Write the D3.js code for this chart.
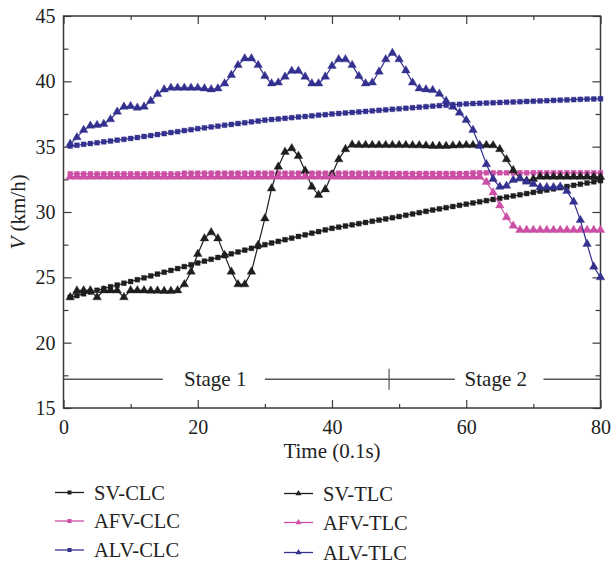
<!DOCTYPE html>
<html><head><meta charset="utf-8">
<script src="https://cdn.jsdelivr.net/npm/d3@7"></script>
<style>body{margin:0;background:#fff}svg{display:block}</style>
</head><body>
<svg id="c" width="611" height="567"></svg>
<script>
const times = d3.range(1, 81);
const svCLC = [23.47,23.60,23.74,23.87,24.01,24.14,24.28,24.41,24.55,24.68,24.82,24.96,25.11,25.25,25.39,25.53,25.67,25.82,25.96,26.10,26.24,26.38,26.52,26.66,26.80,26.94,27.08,27.22,27.36,27.50,27.63,27.75,27.88,28.00,28.13,28.25,28.38,28.50,28.63,28.75,28.84,28.93,29.02,29.11,29.20,29.29,29.38,29.47,29.56,29.65,29.75,29.85,29.95,30.05,30.15,30.24,30.33,30.42,30.51,30.60,30.69,30.78,30.87,30.96,31.05,31.14,31.23,31.32,31.41,31.50,31.59,31.68,31.77,31.86,31.95,32.04,32.13,32.22,32.31,32.40];
const afvCLC = [32.92,32.92,32.92,32.92,32.92,32.92,32.92,32.92,32.92,32.92,32.92,32.92,32.92,32.92,32.92,32.92,32.92,32.97,32.97,32.97,32.97,32.97,32.97,32.97,32.97,32.97,32.97,32.97,32.97,32.97,32.97,32.97,32.97,32.97,32.97,32.97,32.97,32.97,32.97,32.97,32.97,32.97,32.97,32.97,32.97,32.97,32.97,32.95,32.95,32.95,32.95,32.95,32.95,32.95,32.95,32.95,32.95,32.95,32.95,32.95,33.0,33.0,33.0,33.0,33.0,33.0,33.0,33.0,33.0,33.0,33.0,33.0,33.0,33.0,33.0,33.0,33.0,33.0,33.0,33.0];
const alvCLC = [35.05,35.11,35.18,35.24,35.30,35.37,35.43,35.50,35.56,35.63,35.70,35.78,35.85,35.93,36.00,36.08,36.15,36.23,36.30,36.38,36.44,36.51,36.57,36.64,36.70,36.77,36.83,36.90,36.96,37.03,37.08,37.12,37.17,37.22,37.27,37.31,37.36,37.41,37.45,37.50,37.54,37.58,37.62,37.66,37.70,37.74,37.78,37.82,37.86,37.90,37.94,37.98,38.02,38.06,38.10,38.14,38.17,38.21,38.24,38.28,38.30,38.32,38.34,38.36,38.38,38.40,38.42,38.44,38.46,38.48,38.50,38.52,38.54,38.56,38.58,38.60,38.62,38.64,38.65,38.67];
const svTLC = [23.47,23.98,24.0,24.0,23.47,24.0,24.0,24.0,23.47,24.0,24.0,24.0,23.97,23.97,23.95,23.95,24.0,24.46,25.43,26.78,27.98,28.44,27.98,26.7,25.43,24.46,24.46,25.43,27.47,29.51,31.8,33.46,34.6,34.87,34.28,33.16,31.93,31.3,31.73,32.88,34.03,34.8,35.15,35.12,35.12,35.12,35.12,35.12,35.12,35.12,35.12,35.1,35.1,35.08,35.05,35.05,35.05,35.08,35.1,35.12,35.12,35.12,35.12,35.1,34.8,34.03,33.2,32.57,32.4,32.52,32.7,32.7,32.7,32.7,32.7,32.7,32.7,32.7,32.7,32.68];
const afvTLC = [32.7,32.7,32.7,32.7,32.7,32.7,32.7,32.7,32.7,32.7,32.7,32.7,32.7,32.7,32.7,32.7,32.7,32.7,32.7,32.7,32.7,32.7,32.7,32.7,32.7,32.7,32.7,32.7,32.7,32.7,32.7,32.7,32.7,32.7,32.7,32.7,32.7,32.7,32.7,32.7,32.7,32.7,32.7,32.7,32.7,32.7,32.7,32.7,32.7,32.7,32.7,32.7,32.7,32.7,32.7,32.7,32.7,32.7,32.7,32.7,32.7,32.7,32.3,31.5,30.5,29.6,28.95,28.62,28.62,28.62,28.62,28.62,28.62,28.62,28.62,28.62,28.62,28.62,28.62,28.62];
const alvTLC = [35.2,35.71,36.27,36.6,36.65,36.73,37.09,37.67,38.05,38.1,37.98,38.05,38.5,39.02,39.38,39.5,39.5,39.5,39.5,39.5,39.45,39.38,39.45,39.83,40.48,41.24,41.75,41.75,41.24,40.4,39.83,39.9,40.35,40.8,40.8,40.35,39.83,39.83,40.35,41.17,41.68,41.68,41.24,40.4,39.83,39.9,40.73,41.68,42.17,41.68,40.83,39.9,39.45,39.38,39.33,39.04,38.5,38.05,37.6,37.03,36.27,35.05,33.65,32.52,31.93,32.0,32.45,32.57,32.32,32.14,31.89,31.89,31.89,31.93,31.6,30.78,29.38,27.55,25.81,25.0];

const seriesNames = ["SV-CLC","AFV-CLC","ALV-CLC","SV-TLC","AFV-TLC","ALV-TLC"];
const seriesData = [svCLC, afvCLC, alvCLC, svTLC, afvTLC, alvTLC];
const seriesColors = ["#1e1e1e","#cc4fa5","#33308f","#1e1e1e","#cc4fa5","#33308f"];
const seriesShapes = ["square","square","square","triangle","triangle","triangle"];

const xMajor = [0,20,40,60,80];
const xMinor = [10,30,50,70];
const yMajor = [15,20,25,30,35,40,45];
const yMinor = [17.5,22.5,27.5,32.5,37.5,42.5];
const stageLabels = ["Stage 1","Stage 2"];

const svg = d3.select("#c");
const L = 63.5, R = 600.5, T = 16, B = 408;
const x = d3.scaleLinear().domain([0,80]).range([L,R]);
const y = d3.scaleLinear().domain([15,45]).range([B,T]);
const FONT = "'Liberation Serif', 'Times New Roman', serif";
const AX = "#3a3a3a";

function styleAxis(g){ g.select(".domain").remove(); g.selectAll("line").attr("stroke",AX).attr("stroke-width",1.2); g.selectAll("text").attr("font-family",FONT).attr("font-size",20).attr("fill","#222"); }
svg.append("g").attr("transform",`translate(0,${B})`).call(d3.axisBottom(x).tickValues(xMajor).tickSizeInner(-8).tickSizeOuter(0).tickPadding(12).tickFormat(d3.format("d"))).call(styleAxis);
svg.append("g").attr("transform",`translate(0,${B})`).call(d3.axisBottom(x).tickValues(xMinor).tickSizeInner(-4).tickSizeOuter(0).tickFormat("")).call(styleAxis);
svg.append("g").attr("transform",`translate(0,${T})`).call(d3.axisTop(x).tickValues(xMajor).tickSizeInner(-8).tickSizeOuter(0).tickFormat("")).call(styleAxis);
svg.append("g").attr("transform",`translate(0,${T})`).call(d3.axisTop(x).tickValues(xMinor).tickSizeInner(-4).tickSizeOuter(0).tickFormat("")).call(styleAxis);
svg.append("g").attr("transform",`translate(${L},0)`).call(d3.axisLeft(y).tickValues(yMajor).tickSizeInner(-8).tickSizeOuter(0).tickPadding(8).tickFormat(d3.format("d"))).call(styleAxis);
svg.append("g").attr("transform",`translate(${L},0)`).call(d3.axisLeft(y).tickValues(yMinor).tickSizeInner(-5).tickSizeOuter(0).tickFormat("")).call(styleAxis);
svg.append("g").attr("transform",`translate(${R},0)`).call(d3.axisRight(y).tickValues(yMajor).tickSizeInner(-8).tickSizeOuter(0).tickFormat("")).call(styleAxis);
svg.append("g").attr("transform",`translate(${R},0)`).call(d3.axisRight(y).tickValues(yMinor).tickSizeInner(-5).tickSizeOuter(0).tickFormat("")).call(styleAxis);
svg.append("rect").attr("x",L).attr("y",T).attr("width",R-L).attr("height",B-T).attr("fill","none").attr("stroke",AX).attr("stroke-width",1.5);

// stage annotation
const stageY = 17.2;
const stageSegs = [[0,14.8],[30.0,58.3],[71.5,80]];
const stageG = svg.append("g");
stageSegs.forEach(s=>stageG.append("line").attr("x1",x(s[0])).attr("x2",x(s[1])).attr("y1",y(stageY)).attr("y2",y(stageY)).attr("stroke","#555").attr("stroke-width",1.4));
stageG.append("line").attr("x1",x(48.5)).attr("x2",x(48.5)).attr("y1",y(16.4)).attr("y2",y(18.0)).attr("stroke","#555").attr("stroke-width",1.2);
[[22.6,stageLabels[0]],[64.4,stageLabels[1]]].forEach(d=>stageG.append("text").attr("x",x(d[0])).attr("y",y(stageY)).attr("dy","0.33em").attr("text-anchor","middle").attr("font-family",FONT).attr("font-size",21).attr("fill","#222").text(d[1]));

// series
const sym = {square: d3.symbol().type(d3.symbolSquare).size(24), triangle: d3.symbol().type(d3.symbolTriangle).size(32)};
const line = d3.line().x((d,i)=>x(times[i])).y(d=>y(d));
seriesData.forEach((vals,k)=>{
  const g = svg.append("g");
  g.append("path").datum(vals).attr("d",line).attr("fill","none").attr("stroke",seriesColors[k]).attr("stroke-width",1.2);
  g.selectAll("path.m").data(vals).enter().append("path").attr("class","m")
    .attr("transform",(d,i)=>`translate(${x(times[i])},${y(d)})`)
    .attr("d",sym[seriesShapes[k]]()).attr("fill",seriesColors[k]).attr("stroke",seriesColors[k]).attr("stroke-opacity",0.35).attr("stroke-width",1);
});

// axis titles
svg.append("text").attr("x",(L+R)/2).attr("y",458).attr("text-anchor","middle").attr("font-family",FONT).attr("font-size",21).attr("fill","#222").text("Time (0.1s)");
const yt = svg.append("text").attr("transform",`translate(25,${(T+B)/2}) rotate(-90)`).attr("text-anchor","middle").attr("font-family",FONT).attr("font-size",21).attr("fill","#222");
yt.append("tspan").attr("font-style","italic").text("V");
yt.append("tspan").text(" (km/h)");

// legend
const legPos = [[55,492.5],[55,521],[55,550],[284,493.5],[284,522.5],[284,552.5]];
seriesNames.forEach((n,k)=>{
  const [lx,ly] = legPos[k];
  const g = svg.append("g");
  g.append("line").attr("x1",lx).attr("x2",lx+29).attr("y1",ly).attr("y2",ly).attr("stroke",seriesColors[k]).attr("stroke-width",1.3);
  g.append("path").attr("transform",`translate(${lx+14.5},${ly})`).attr("d",d3.symbol().type(seriesShapes[k]==="square"?d3.symbolSquare:d3.symbolTriangle).size(16)()).attr("fill",seriesColors[k]);
  g.append("text").attr("x",lx+39).attr("y",ly).attr("dy","0.35em").attr("font-family",FONT).attr("font-size",20.5).attr("fill","#222").text(n);
});
</script>
</body></html>
